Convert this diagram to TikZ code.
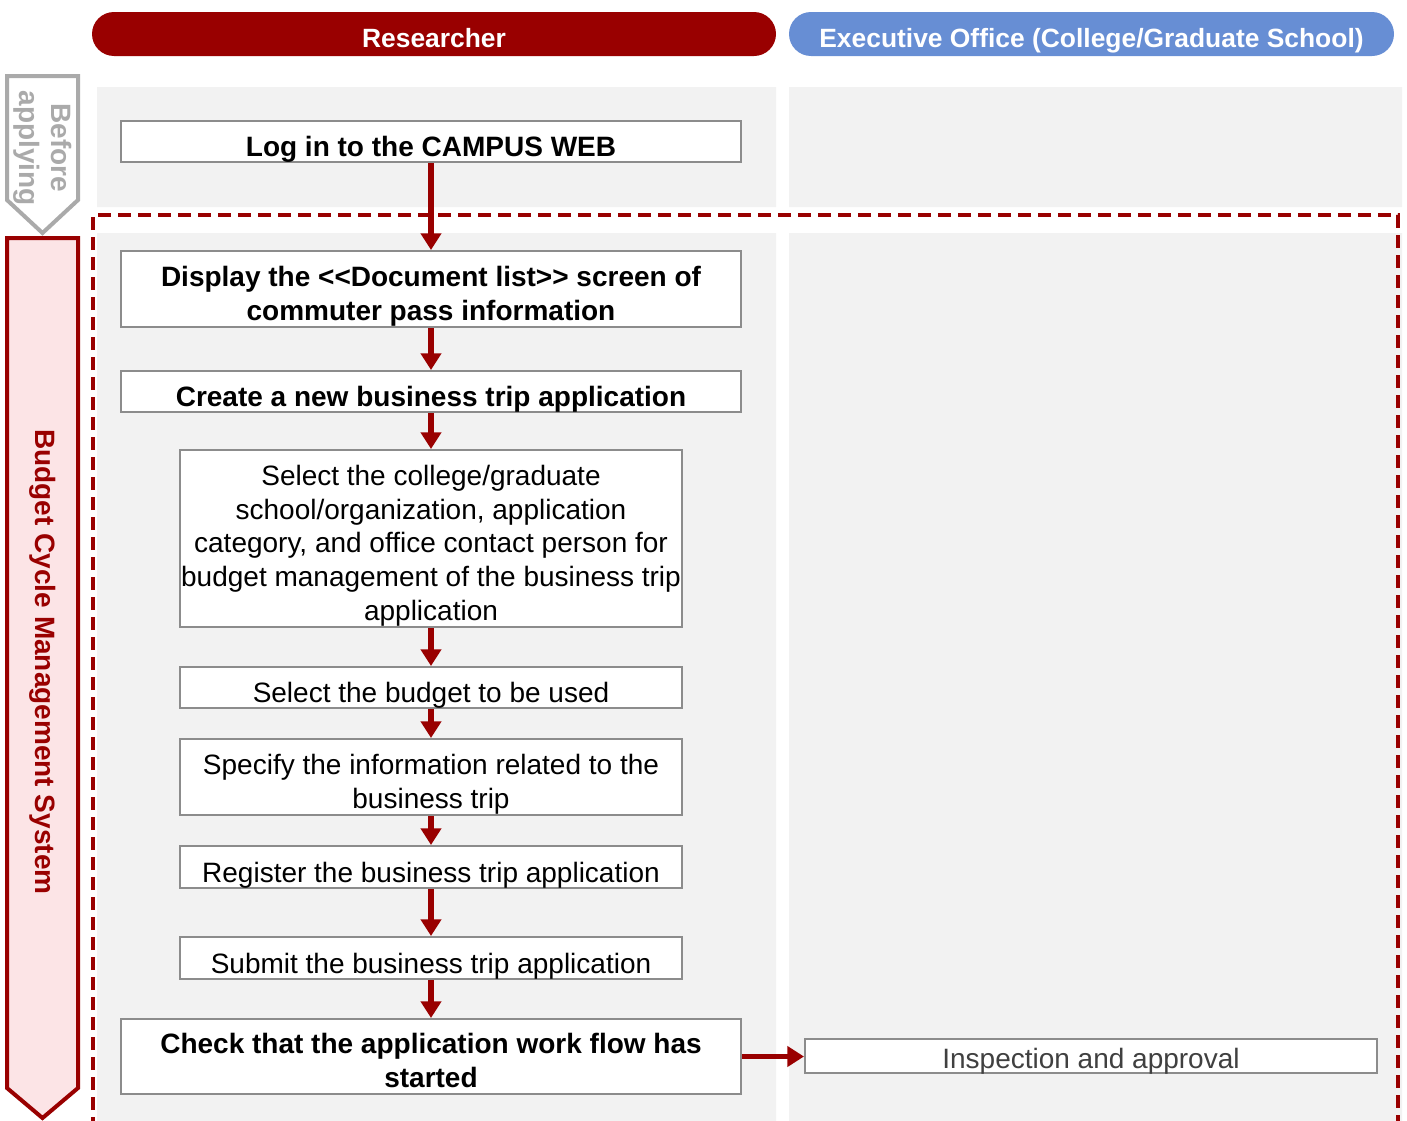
\documentclass[tikz,border=0pt]{standalone}
\usepackage{fontspec}
\setmainfont{Liberation Sans}
\usetikzlibrary{arrows.meta}

\definecolor{darkred}{RGB}{153,0,0}
\definecolor{laneblue}{RGB}{103,142,212}
\definecolor{lanegray}{RGB}{242,242,242}
\definecolor{boxgray}{RGB}{140,140,140}
\definecolor{phasegray}{RGB}{170,170,170}
\definecolor{phasepink}{RGB}{252,228,230}
\definecolor{textgray}{RGB}{64,64,64}

\newdimen\pxu \pxu=0.75pt

\tikzset{
	lanehead/.style={rectangle,rounded corners=16.5pt,minimum height=44\pxu,inner sep=0pt,
		text=white,font=\fontsize{19.8}{23}\selectfont\bfseries,text height=20pt,text depth=0pt},
	stepbox/.style={rectangle,draw=boxgray,line width=1.5pt,fill=white,inner sep=0pt,
		font=\fontsize{21}{25.2}\selectfont,align=center},
	onerow/.style={text height=22.5pt,text depth=0pt},
	manyrow/.style={text height=#1},
	flow/.style={color=darkred,line width=4pt,-{Triangle[width=15pt,length=12.5pt]}},
}

\def\lanes{
	\fill[lanegray] (97,87) rectangle (776,207)
			(97,233) rectangle (776,1121)
			(789,87) rectangle (1402,207)
			(789,233) rectangle (1402,1121);
	\path (434,34) node(Researcher) [lanehead,fill=darkred,minimum width=684\pxu] {Researcher}
			(1091.5,34) node(ExecOffice) [lanehead,fill=laneblue,minimum width=605\pxu] {Executive Office (College/Graduate School)};
	\draw[darkred,line width=3pt,dash pattern=on 10pt off 5pt] (93,1130) |- (1398,215) -- (1398,1130);
}
\def\phases{
	\draw[phasegray,line width=3pt,fill=white] (7,76) -- (78,76) -- (78,200) -- (42.5,233) -- (7,200) -- cycle;
	\draw[darkred,line width=3pt,fill=phasepink] (7,238) -- (78,238) -- (78,1088) -- (42.5,1118) -- (7,1088) -- cycle;
	\path (42.5,148) node(BeforeLabel) [rotate=-90,text=phasegray,align=center,font=\fontsize{21}{24}\selectfont\bfseries] {Before\\applying}
			(42.5,662) node(BudgetLabel) [rotate=-90,text=darkred,font=\fontsize{21}{25}\selectfont\bfseries] {Budget Cycle Management System};
}
\def\researcher{
	\path (431,141.5) node(LogIn) [stepbox,onerow,minimum width=620\pxu,minimum height=41\pxu] {\bfseries Log in to the CAMPUS WEB}
			(431,289) node(DocList) [stepbox,manyrow=51pt,minimum width=620\pxu,minimum height=76\pxu] {\bfseries Display the <\kern0pt<Document list>\kern0pt> screen of\\\bfseries commuter pass information}
			(431,391.5) node(NewApp) [stepbox,onerow,minimum width=620\pxu,minimum height=41\pxu] {\bfseries Create a new business trip application}
			(431,538.5) node(SelOrg) [stepbox,manyrow=126.6pt,minimum width=502\pxu,minimum height=177\pxu] {Select the college/graduate\\school/organization, application\\category, and office contact person for\\budget management of the business trip\\application}
			(431,687.5) node(SelBudget) [stepbox,onerow,minimum width=502\pxu,minimum height=41\pxu] {Select the budget to be used}
			(431,777) node(SpecInfo) [stepbox,manyrow=51pt,minimum width=502\pxu,minimum height=76\pxu] {Specify the information related to the\\business trip}
			(431,867) node(RegApp) [stepbox,onerow,minimum width=502\pxu,minimum height=42\pxu] {Register the business trip application}
			(431,958) node(SubmitApp) [stepbox,onerow,minimum width=502\pxu,minimum height=42\pxu] {Submit the business trip application}
			(431,1056.5) node(CheckFlow) [stepbox,manyrow=46.5pt,minimum width=620\pxu,minimum height=75\pxu] {\bfseries Check that the application work flow has\\\bfseries started};
}
\def\office{
	\path (1091,1056) node(Inspect) [stepbox,minimum width=572\pxu,minimum height=34\pxu,text=textgray,text height=18pt,text depth=0pt] {Inspection and approval};
}

\begin{document}
\begin{tikzpicture}[x=0.75pt,y=-0.75pt]
\useasboundingbox (0,0) rectangle (1407,1121);
\lanes
\phases
\researcher
\office
\draw[flow] (LogIn.south) -- (DocList.north);
\draw[flow] (DocList.south) -- (NewApp.north);
\draw[flow] (NewApp.south) -- (SelOrg.north);
\draw[flow] (SelOrg.south) -- (SelBudget.north);
\draw[flow] (SelBudget.south) -- (SpecInfo.north);
\draw[flow] (SpecInfo.south) -- (RegApp.north);
\draw[flow] (RegApp.south) -- (SubmitApp.north);
\draw[flow] (SubmitApp.south) -- (CheckFlow.north);
\draw[flow] (CheckFlow.east) -- (CheckFlow.east -| Inspect.west);
\end{tikzpicture}
\end{document}
